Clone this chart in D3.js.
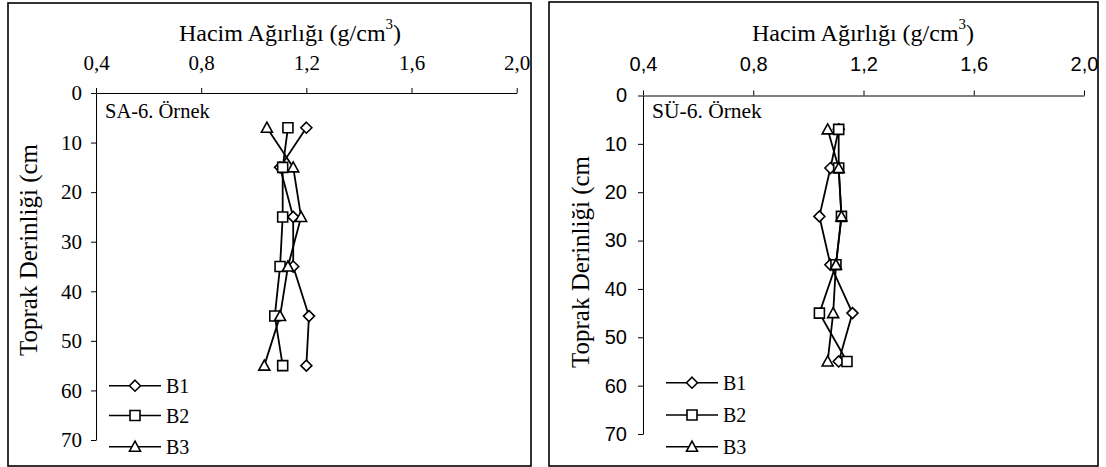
<!DOCTYPE html>
<html>
<head>
<meta charset="utf-8">
<script src="https://cdn.jsdelivr.net/npm/d3@7"></script>
<style>
  html, body { margin: 0; padding: 0; background: #fff; }
  svg { display: block; }
</style>
</head>
<body>
<svg id="chart" width="1106" height="467"></svg>
<script>
// Sampling depths (cm) and bulk density readings (g/cm³) per profile
const depths = [7, 15, 25, 35, 45, 55];
const seriesNames = ["B1", "B2", "B3"];
const saB1 = [1.20, 1.10, 1.15, 1.15, 1.21, 1.20];
const saB2 = [1.13, 1.11, 1.11, 1.10, 1.08, 1.11];
const saB3 = [1.05, 1.15, 1.18, 1.13, 1.10, 1.04];
const suB1 = [1.11, 1.08, 1.04, 1.08, 1.16, 1.11];
const suB2 = [1.11, 1.11, 1.12, 1.10, 1.04, 1.14];
const suB3 = [1.07, 1.11, 1.12, 1.10, 1.09, 1.07];
const xTicks = [0.4, 0.8, 1.2, 1.6, 2.0];
const yTicks = [0, 10, 20, 30, 40, 50, 60, 70];
const xTitle = "Hacim Ağırlığı (g/cm";
const yTitle = "Toprak Derinliği (cm";
const panelLabels = ["SA-6. Örnek", "SÜ-6. Örnek"];

const SERIF = "'Liberation Serif', 'Times New Roman', Times, serif";
const SANS = "'Liberation Sans', Arial, Helvetica, sans-serif";

const svg = d3.select("#chart");
const fmt = v => d3.format(".1f")(v).replace(".", ",");

// Excel-style open markers
function markerPath(kind) {
  if (kind === 0) return "M0,-5.5L5.5,0L0,5.5L-5.5,0Z";          // diamond
  if (kind === 1) return "M-5,-5H5V5H-5Z";                         // square
  return "M0,-5.5L5.5,4.5H-5.5Z";                                   // triangle
}

function drawPanel(p) {
  const g = svg.append("g");

  // outer frame
  g.append("rect")
    .attr("x", p.frame[0]).attr("y", p.frame[1])
    .attr("width", p.frame[2] - p.frame[0]).attr("height", p.frame[3] - p.frame[1])
    .attr("fill", "#fff").attr("stroke", "#000").attr("stroke-width", 1.6);

  const x = d3.scaleLinear().domain([0.4, 2.0]).range(p.xr);
  const y = d3.scaleLinear().domain([0, 70]).range(p.yr);

  // top value axis
  const xa = g.append("g")
    .attr("transform", `translate(0,${p.yr[0]})`)
    .call(d3.axisTop(x).tickValues(xTicks).tickFormat(fmt)
      .tickSize(5).tickSizeOuter(0).tickPadding(p.xPad));
  xa.attr("font-family", null).attr("font-size", null);
  xa.select(".domain").attr("stroke", "#000").attr("stroke-width", 1);
  xa.selectAll(".tick line").attr("stroke", "#000");
  xa.selectAll("text").style("font-family", p.tickFont).style("font-size", p.tickSize + "px").attr("fill", "#000");

  // depth axis
  const ya = g.append("g")
    .attr("transform", `translate(${p.xr[0]},0)`)
    .call(d3.axisLeft(y).tickValues(yTicks).tickFormat(d3.format("d"))
      .tickSize(5).tickSizeOuter(0).tickPadding(p.yPad));
  ya.attr("font-family", null).attr("font-size", null);
  ya.select(".domain").attr("stroke", "#000").attr("stroke-width", 1);
  ya.selectAll(".tick line").attr("stroke", "#000");
  ya.selectAll("text").style("font-family", p.tickFont).style("font-size", p.tickSize + "px").attr("fill", "#000");

  // axis titles
  const t = g.append("text")
    .attr("x", p.titleX).attr("y", 41)
    .attr("text-anchor", "middle")
    .style("font-family", SERIF).style("font-size", "24px").attr("fill", "#000");
  t.append("tspan").text(xTitle);
  t.append("tspan").attr("dy", -12).style("font-size", "15px").text("3");
  t.append("tspan").attr("dy", 12).text(")");

  g.append("text")
    .attr("transform", `translate(${p.yTitleX},${p.yTitleY}) rotate(-90)`)
    .attr("text-anchor", "middle")
    .style("font-family", SERIF).style("font-size", "25px").attr("fill", "#000")
    .text(yTitle);

  g.append("text")
    .attr("x", p.xr[0] + 9).attr("y", 118)
    .style("font-family", SERIF).style("font-size", p.labelSize + "px").attr("fill", "#000")
    .text(p.label);

  // profile lines and markers
  const line = d3.line().x(d => x(d[0])).y(d => y(d[1]));
  p.series.forEach((vals) => {
    const pts = vals.map((v, i) => [v, depths[i]]);
    g.append("path").attr("d", line(pts))
      .attr("fill", "none").attr("stroke", "#000").attr("stroke-width", 1.8);
  });
  p.series.forEach((vals, si) => {
    g.selectAll(null).data(vals).enter().append("path")
      .attr("d", markerPath(si))
      .attr("transform", (v, i) => `translate(${x(v)},${y(depths[i])})`)
      .attr("fill", "#fff").attr("stroke", "#000").attr("stroke-width", 1.6);
  });

  // legend
  seriesNames.forEach((name, si) => {
    const ly = p.legY[si];
    g.append("line")
      .attr("x1", p.legX).attr("x2", p.legX + 52)
      .attr("y1", ly).attr("y2", ly)
      .attr("stroke", "#000").attr("stroke-width", 1.6);
    g.append("path").attr("d", markerPath(si))
      .attr("transform", `translate(${p.legX + 26},${ly})`)
      .attr("fill", "#fff").attr("stroke", "#000").attr("stroke-width", 1.6);
    g.append("text")
      .attr("x", p.legX + 57).attr("y", ly).attr("dy", "0.35em")
      .style("font-family", SERIF).style("font-size", "20px").attr("fill", "#000")
      .text(name);
  });
}

drawPanel({
  frame: [8, 3, 531, 466],
  xr: [96, 516.7], yr: [93, 440],
  xPad: 18, yPad: 9,
  tickFont: SERIF, tickSize: 21,
  titleX: 290, yTitleX: 37, yTitleY: 250,
  label: panelLabels[0], labelSize: 20.5,
  series: [saB1, saB2, saB3],
  legX: 109, legY: [385.7, 415.5, 446.7]
});

drawPanel({
  frame: [549, 2, 1098, 466],
  xr: [643, 1084], yr: [95.5, 434],
  xPad: 20, yPad: 11,
  tickFont: SANS, tickSize: 20,
  titleX: 863, yTitleX: 589, yTitleY: 262,
  label: panelLabels[1], labelSize: 21.5,
  series: [suB1, suB2, suB3],
  legX: 666, legY: [382.7, 415, 446.7]
});
</script>
</body>
</html>
